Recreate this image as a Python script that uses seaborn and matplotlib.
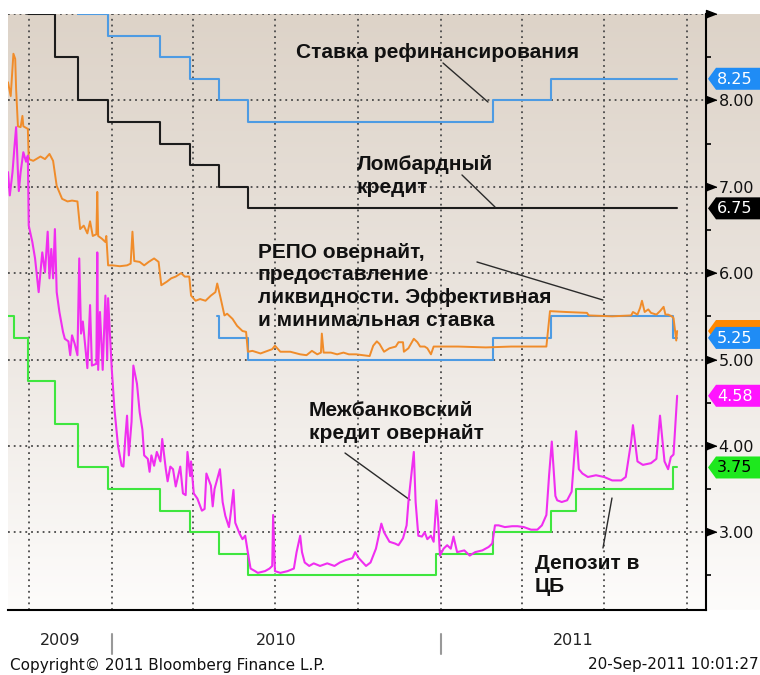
import matplotlib
matplotlib.use("Agg")
import numpy as np
import pandas as pd
import matplotlib.pyplot as plt
import matplotlib.dates as mdates
import matplotlib.transforms as mtransforms
from matplotlib.colors import LinearSegmentedColormap
from matplotlib.patches import Polygon
from matplotlib.ticker import MultipleLocator
import seaborn as sns

# ставки ЦБ РФ, % -- ступенчатые ряды (дата изменения -> новое значение)
refi_dates = ["2009-09-08", "2009-09-15", "2009-09-30", "2009-10-30", "2009-11-25", "2009-12-28",
              "2010-02-24", "2010-03-29", "2010-04-30", "2010-06-01", "2011-02-28", "2011-05-03",
              "2011-09-20"]
refi_rate = [10.75, 10.5, 10.0, 9.5, 9.0, 8.75, 8.5, 8.25, 8.0, 7.75, 8.0, 8.25, 8.25]

lombard_dates = ["2009-09-08", "2009-09-15", "2009-09-30", "2009-10-30", "2009-11-25", "2009-12-28",
                 "2010-02-24", "2010-03-29", "2010-04-30", "2010-06-01", "2011-09-20"]
lombard_rate = [9.75, 9.5, 9.0, 8.5, 8.0, 7.75, 7.5, 7.25, 7.0, 6.75, 6.75]

deposit_dates = ["2009-09-08", "2009-09-15", "2009-09-30", "2009-10-30", "2009-11-25", "2009-12-28",
                 "2010-02-24", "2010-03-29", "2010-04-30", "2010-06-01", "2010-12-27", "2011-02-28",
                 "2011-05-03", "2011-05-31", "2011-09-15", "2011-09-20"]
deposit_rate = [5.5, 5.25, 4.75, 4.25, 3.75, 3.5, 3.25, 3.0, 2.75, 2.5, 2.75, 3.0, 3.25, 3.5, 3.75, 3.75]

repo_min_dates = ["2010-04-28", "2010-04-30", "2010-06-01", "2011-02-28", "2011-05-03", "2011-09-15",
                  "2011-09-20"]
repo_min_rate = [5.5, 5.25, 5.0, 5.25, 5.5, 5.25, 5.25]

# РЕПО овернайт, эффективная ставка
repo_dates = ["2009-09-08", "2009-09-11", "2009-09-14", "2009-09-16", "2009-09-17", "2009-09-19",
              "2009-09-22", "2009-09-24", "2009-09-25", "2009-09-30", "2009-10-01", "2009-10-06",
              "2009-10-14", "2009-10-19", "2009-10-24", "2009-10-28", "2009-11-01", "2009-11-07",
              "2009-11-13", "2009-11-18", "2009-11-24", "2009-11-27", "2009-12-01", "2009-12-05",
              "2009-12-08", "2009-12-11", "2009-12-15", "2009-12-16", "2009-12-17", "2009-12-21",
              "2009-12-25", "2009-12-26", "2009-12-28", "2010-01-02", "2010-01-10", "2010-01-18",
              "2010-01-22", "2010-01-24", "2010-01-26", "2010-02-01", "2010-02-06", "2010-02-11",
              "2010-02-17", "2010-02-22", "2010-02-25", "2010-03-03", "2010-03-08", "2010-03-13",
              "2010-03-19", "2010-03-23", "2010-03-28", "2010-03-30", "2010-04-04", "2010-04-09",
              "2010-04-15", "2010-04-21", "2010-04-26", "2010-04-28", "2010-05-02", "2010-05-06",
              "2010-05-09", "2010-05-15", "2010-05-20", "2010-05-26", "2010-05-30", "2010-06-01",
              "2010-06-06", "2010-06-15", "2010-06-23", "2010-06-28", "2010-07-01", "2010-07-07",
              "2010-07-18", "2010-07-29", "2010-08-05", "2010-08-11", "2010-08-17", "2010-08-21",
              "2010-08-22", "2010-08-24", "2010-09-01", "2010-09-08", "2010-09-15", "2010-09-21",
              "2010-09-29", "2010-10-07", "2010-10-14", "2010-10-18", "2010-10-22", "2010-10-25",
              "2010-10-30", "2010-11-05", "2010-11-12", "2010-11-15", "2010-11-20", "2010-11-21",
              "2010-11-26", "2010-12-02", "2010-12-06", "2010-12-09", "2010-12-14", "2010-12-17",
              "2010-12-21", "2010-12-24", "2011-01-20", "2011-02-20", "2011-03-20", "2011-04-28",
              "2011-05-02", "2011-05-20", "2011-06-12", "2011-06-14", "2011-07-10", "2011-07-31",
              "2011-08-02", "2011-08-07", "2011-08-10", "2011-08-12", "2011-08-15", "2011-08-19",
              "2011-08-22", "2011-08-28", "2011-09-01", "2011-09-05", "2011-09-07", "2011-09-10",
              "2011-09-14", "2011-09-16", "2011-09-19", "2011-09-20"]
repo_rate = [8.21, 8.05, 8.54, 8.48, 8.13, 7.70,
             7.69, 7.82, 7.70, 7.67, 7.32, 7.30,
             7.35, 7.32, 7.38, 7.30, 7.01, 6.86,
             6.83, 6.84, 6.83, 6.51, 6.55, 6.46,
             6.60, 6.43, 6.45, 6.94, 6.43, 6.40,
             6.36, 6.43, 6.09, 6.09, 6.08, 6.09,
             6.11, 6.48, 6.14, 6.13, 6.09, 6.13,
             6.17, 6.13, 5.86, 5.90, 5.94, 5.96,
             6.00, 5.96, 5.96, 5.74, 5.68, 5.70,
             5.68, 5.74, 5.78, 5.88, 5.70, 5.51,
             5.53, 5.47, 5.39, 5.33, 5.32, 5.09,
             5.10, 5.07, 5.10, 5.12, 5.16, 5.09,
             5.09, 5.06, 5.05, 5.10, 5.06, 5.08,
             5.30, 5.08, 5.08, 5.06, 5.08, 5.06,
             5.06, 5.05, 5.04, 5.16, 5.21, 5.18,
             5.09, 5.13, 5.15, 5.20, 5.20, 5.09,
             5.13, 5.24, 5.20, 5.15, 5.15, 5.13,
             5.06, 5.15, 5.15, 5.14, 5.15, 5.15,
             5.56, 5.55, 5.54, 5.51, 5.50, 5.51,
             5.55, 5.52, 5.60, 5.68, 5.55, 5.58,
             5.54, 5.52, 5.56, 5.61, 5.52, 5.52,
             5.50, 5.48, 5.22, 5.33]

# межбанковский кредит овернайт
mbk_dates = ["2009-09-08", "2009-09-10", "2009-09-13", "2009-09-15", "2009-09-17", "2009-09-19",
             "2009-09-20", "2009-09-22", "2009-09-25", "2009-09-28", "2009-09-30", "2009-10-01",
             "2009-10-05", "2009-10-08", "2009-10-12", "2009-10-16", "2009-10-19", "2009-10-22",
             "2009-10-24", "2009-10-26", "2009-10-28", "2009-10-30", "2009-11-01", "2009-11-04",
             "2009-11-08", "2009-11-10", "2009-11-14", "2009-11-16", "2009-11-18", "2009-11-21",
             "2009-11-24", "2009-11-26", "2009-11-28", "2009-11-30", "2009-12-05", "2009-12-08",
             "2009-12-10", "2009-12-15", "2009-12-16", "2009-12-17", "2009-12-19", "2009-12-22",
             "2009-12-25", "2009-12-27", "2009-12-28", "2010-01-01", "2010-01-04", "2010-01-08",
             "2010-01-12", "2010-01-14", "2010-01-16", "2010-01-18", "2010-01-20", "2010-01-23",
             "2010-01-25", "2010-01-29", "2010-02-01", "2010-02-04", "2010-02-06", "2010-02-10",
             "2010-02-12", "2010-02-14", "2010-02-17", "2010-02-20", "2010-02-24", "2010-02-26",
             "2010-03-02", "2010-03-04", "2010-03-07", "2010-03-10", "2010-03-13", "2010-03-18",
             "2010-03-21", "2010-03-24", "2010-03-26", "2010-03-29", "2010-03-30", "2010-04-02",
             "2010-04-06", "2010-04-11", "2010-04-14", "2010-04-16", "2010-04-21", "2010-04-23",
             "2010-04-25", "2010-05-01", "2010-05-04", "2010-05-07", "2010-05-11", "2010-05-13",
             "2010-05-16", "2010-05-18", "2010-05-23", "2010-05-26", "2010-05-29", "2010-06-02",
             "2010-06-04", "2010-06-09", "2010-06-12", "2010-06-20", "2010-06-25", "2010-06-28",
             "2010-06-29", "2010-07-01", "2010-07-07", "2010-07-15", "2010-07-22", "2010-07-25",
             "2010-07-29", "2010-07-31", "2010-08-03", "2010-08-08", "2010-08-13", "2010-08-20",
             "2010-08-28", "2010-09-05", "2010-09-11", "2010-09-18", "2010-09-25", "2010-09-28",
             "2010-10-02", "2010-10-10", "2010-10-15", "2010-10-21", "2010-10-27", "2010-10-30",
             "2010-11-05", "2010-11-11", "2010-11-15", "2010-11-20", "2010-11-24", "2010-11-26",
             "2010-12-02", "2010-12-04", "2010-12-07", "2010-12-11", "2010-12-14", "2010-12-17",
             "2010-12-21", "2010-12-24", "2010-12-27", "2010-12-29", "2010-12-31", "2011-01-04",
             "2011-01-08", "2011-01-12", "2011-01-15", "2011-01-19", "2011-01-27", "2011-02-02",
             "2011-02-08", "2011-02-16", "2011-02-23", "2011-02-27", "2011-03-02", "2011-03-06",
             "2011-03-13", "2011-03-21", "2011-03-27", "2011-04-03", "2011-04-11", "2011-04-18",
             "2011-04-23", "2011-04-28", "2011-05-01", "2011-05-04", "2011-05-08", "2011-05-10",
             "2011-05-15", "2011-05-21", "2011-05-26", "2011-05-31", "2011-06-03", "2011-06-07",
             "2011-06-13", "2011-06-22", "2011-07-01", "2011-07-10", "2011-07-20", "2011-07-25",
             "2011-07-31", "2011-08-02", "2011-08-07", "2011-08-13", "2011-08-22", "2011-08-28",
             "2011-09-01", "2011-09-06", "2011-09-10", "2011-09-13", "2011-09-16", "2011-09-20"]
mbk_rate = [7.17, 6.90, 7.17, 7.44, 7.69, 7.17,
            6.95, 7.17, 7.40, 7.29, 7.36, 6.55,
            6.36, 6.17, 5.78, 6.24, 6.01, 6.48,
            5.94, 6.28, 5.94, 6.51, 5.78, 5.55,
            5.32, 5.24, 5.21, 5.05, 5.28, 5.18,
            5.05, 6.17, 5.30, 5.44, 4.90, 5.63,
            4.93, 4.95, 6.24, 4.88, 5.55, 4.88,
            5.74, 5.00, 5.71, 4.90, 4.43, 4.00,
            3.77, 3.76, 4.08, 4.35, 3.89, 4.28,
            4.93, 4.72, 4.39, 4.19, 3.89, 3.85,
            3.70, 3.89, 3.77, 3.93, 3.82, 4.08,
            3.73, 3.59, 3.76, 3.73, 3.53, 3.76,
            3.45, 3.43, 3.93, 3.65, 3.82, 3.45,
            3.39, 3.25, 3.27, 3.68, 3.54, 3.30,
            3.50, 3.73, 3.35, 3.19, 3.06, 3.22,
            3.49, 3.11, 2.98, 2.92, 2.96, 2.70,
            2.58, 2.55, 2.53, 2.55, 2.58, 2.61,
            3.20, 2.55, 2.53, 2.55, 2.58, 2.77,
            2.96, 2.77, 2.65, 2.61, 2.64, 2.61,
            2.64, 2.61, 2.65, 2.68, 2.70, 2.77,
            2.70, 2.61, 2.65, 2.81, 3.10, 3.00,
            2.89, 2.87, 2.85, 2.93, 3.08, 3.35,
            3.93, 3.35, 2.96, 2.95, 3.00, 2.92,
            2.96, 2.89, 3.37, 3.13, 2.73, 2.81,
            2.85, 2.81, 2.95, 2.77, 2.79, 2.73,
            2.77, 2.79, 2.83, 2.87, 3.08, 3.08,
            3.06, 3.07, 3.07, 3.06, 3.03, 3.03,
            3.08, 3.20, 3.66, 4.05, 3.42, 3.37,
            3.35, 3.37, 3.47, 4.17, 3.73, 3.68,
            3.64, 3.66, 3.64, 3.60, 3.60, 3.64,
            4.05, 4.24, 3.82, 3.78, 3.80, 3.85,
            4.35, 3.82, 3.73, 3.87, 3.90, 4.58]

rate_ticks = [3, 4, 5, 6, 7, 8, 9]
rate_labels = ["3.00", "4.00", "5.00", "6.00", "7.00", "8.00", ""]
years = ["2009", "2010", "2011"]

sns.set_style("white")
plt.rcParams["font.family"] = ["DejaVu Sans"]

fig = plt.figure(figsize=(7.6, 6.75), dpi=100, facecolor="white")

# бежевый градиент фона, как в терминале
bg = fig.add_axes([8 / 760, 65 / 675, 752 / 760, 596 / 675], zorder=0)
bg.imshow(np.linspace(0, 1, 256).reshape(-1, 1), aspect="auto",
          cmap=LinearSegmentedColormap.from_list("bbg", ["#ddd3c8", "#ebe5df", "#fdfcfb"]))
bg.set_axis_off()

ax = fig.add_axes([8 / 760, 65 / 675, 698 / 760, 596 / 675], zorder=1)
ax.patch.set_alpha(0)


def step_line(dates, rates, color):
    sns.lineplot(x=pd.to_datetime(dates), y=rates, ax=ax, color=color, linewidth=1.5,
                 drawstyle="steps-post", legend=False, zorder=3)


step_line(refi_dates, refi_rate, "#4d9be3")
step_line(lombard_dates, lombard_rate, "#1c1c1c")
step_line(repo_min_dates, repo_min_rate, "#4d9be3")
step_line(deposit_dates, deposit_rate, "#3fe63f")
sns.lineplot(x=pd.to_datetime(repo_dates), y=repo_rate, ax=ax, color="#f08c2a",
             linewidth=1.4, legend=False, zorder=4)
sns.lineplot(x=pd.to_datetime(mbk_dates), y=mbk_rate, ax=ax, color="#f02ef0",
             linewidth=1.5, legend=False, zorder=4)

ax.set_xlim(pd.Timestamp("2009-09-08"), pd.Timestamp("2011-10-22"))
ax.set_ylim(2.10, 9.0)
ax.set_xlabel("")
ax.set_ylabel("")

# оси и сетка
for side in ["top", "left"]:
    ax.spines[side].set_visible(False)
for side in ["bottom", "right"]:
    ax.spines[side].set_color("black")
    ax.spines[side].set_linewidth(1.5)

ax.xaxis.set_major_locator(mdates.MonthLocator(bymonth=[1, 4, 7, 10]))
ax.xaxis.set_minor_locator(mdates.MonthLocator())
ax.tick_params(axis="x", which="both", direction="out", length=4, width=1.2,
               color="black", labelbottom=False)

ax.yaxis.tick_right()
ax.set_yticks(rate_ticks)
ax.set_yticklabels(rate_labels)
ax.yaxis.set_minor_locator(MultipleLocator(0.5))
ax.tick_params(axis="y", which="major", length=0, pad=9, labelsize=11.5, labelcolor="#111")
ax.tick_params(axis="y", which="minor", direction="out", length=3.5, width=1.2, color="black")

ax.grid(True, which="major", linestyle=(0, (1, 2.2)), color="#4a4a4a", linewidth=1.3)
ax.set_axisbelow(True)

# чёрные треугольники основных делений справа
ax.plot([1.0] * len(rate_ticks), rate_ticks, transform=ax.get_yaxis_transform(),
        linestyle="none", marker=[(0, -1), (0, 1), (2.6, 0)], markersize=15,
        color="black", clip_on=False, zorder=6)

# годы и разделители под осью
x0, x1 = ax.get_xlim()
bounds = [x0, mdates.date2num(pd.Timestamp("2010-01-01")),
          mdates.date2num(pd.Timestamp("2011-01-01")), x1]
xtrans = ax.get_xaxis_transform()
for year, a, b in zip(years, bounds[:-1], bounds[1:]):
    ax.text((a + b) / 2, -0.052, year, transform=xtrans, ha="center", va="center",
            fontsize=11.5, color="#222")
for b in bounds[1:-1]:
    ax.plot([b, b], [-0.040, -0.073], transform=xtrans, color="#999999", lw=1.5, clip_on=False)


# ярлыки последних значений справа
def price_tag(value, face, text_color, z, show_text=True):
    trans = fig.dpi_scale_trans + mtransforms.ScaledTranslation(1.0, value, ax.get_yaxis_transform())
    tag = Polygon([(0.02, 0), (0.10, 0.11), (0.8, 0.11), (0.8, -0.11), (0.10, -0.11)],
                  closed=True, transform=trans, facecolor=face, edgecolor="none",
                  clip_on=False, zorder=z)
    fig.add_artist(tag)
    if show_text:
        fig.text(0.11, -0.005, f"{value:.2f}", transform=trans, ha="left", va="center",
                 fontsize=11.5, color=text_color, zorder=z + 0.1)


price_tag(refi_rate[-1], "#1f8cf5", "white", 10)
price_tag(lombard_rate[-1], "black", "white", 10)
# оранжевый ярлык почти целиком закрыт синим, видна только кромка
price_tag(repo_rate[-1], "#ff8800", "white", 10, show_text=False)
price_tag(repo_min_rate[-1], "#1f8cf5", "white", 11)
price_tag(mbk_rate[-1], "#ff14ff", "white", 10)
price_tag(deposit_rate[-1], "#1ee81e", "black", 10)

# подписи рядов
label_kw = dict(transform=ax.transAxes, ha="left", va="center", fontsize=15,
                fontweight="bold", family="Liberation Sans", color="#111", linespacing=1.25, zorder=7)
ax.text(0.4126, 0.936, "Ставка рефинансирования", **label_kw)
ax.text(0.500, 0.728, "Ломбардный\nкредит", **label_kw)
ax.text(0.358, 0.543, "РЕПО овернайт,\nпредоставление\nликвидности. Эффективная\nи минимальная ставка",
        **label_kw)
ax.text(0.431, 0.315, "Межбанковский\nкредит овернайт", **label_kw)
ax.text(0.755, 0.059, "Депозит в\nЦБ", **label_kw)

leaders = [((0.6232, 0.9178), (0.6877, 0.8523)),
           ((0.6504, 0.7299), (0.6977, 0.6762)),
           ((0.6719, 0.5839), (0.8524, 0.5201)),
           ((0.4828, 0.2634), (0.5759, 0.1846)),
           ((0.8524, 0.1040), (0.8653, 0.1879))]
for start, end in leaders:
    ax.annotate("", xy=end, xytext=start, xycoords="axes fraction", textcoords="axes fraction",
                arrowprops=dict(arrowstyle="-", color="#2a2a2a", lw=1.0, shrinkA=0, shrinkB=0))

fig.text(10 / 760, 1 - 665 / 675, "Copyright\u00a9 2011 Bloomberg Finance L.P.", ha="left",
         va="center", fontsize=11, color="#111")
fig.text(759 / 760, 1 - 665 / 675, "20-Sep-2011 10:01:27", ha="right", va="center",
         fontsize=11, color="#111")

fig.savefig("out.png", dpi=100)
